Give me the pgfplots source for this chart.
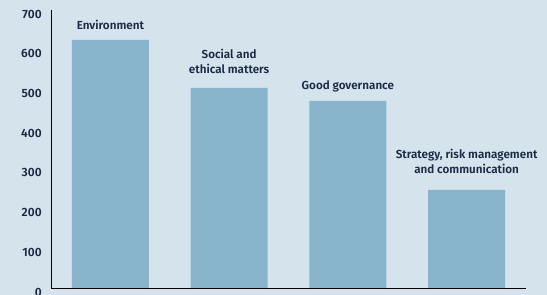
\documentclass[border=0pt]{standalone}
\usepackage{pgfplots}
\pgfplotsset{compat=1.18}
\usepackage{fontspec}
\setmainfont{Fira Sans}[BoldFont={Fira Sans SemiBold}]
\definecolor{bgc}{HTML}{D4E3EC}
\definecolor{barc}{HTML}{88B5CC}
\definecolor{txt}{HTML}{1C2A44}
\expandafter\def\csname lbl@env\endcsname{Environment}
\expandafter\def\csname lbl@soc\endcsname{Social and\\ethical matters}
\expandafter\def\csname lbl@gov\endcsname{Good governance}
\expandafter\def\csname lbl@str\endcsname{Strategy, risk management\\and communication}
\expandafter\def\csname sh@env\endcsname{10.7bp}
\expandafter\def\csname sh@soc\endcsname{14bp}
\expandafter\def\csname sh@gov\endcsname{11.7bp}
\expandafter\def\csname sh@str\endcsname{16bp}
\begin{document}
\begin{tikzpicture}
\path[use as bounding box, fill=bgc] (-51bp,-7bp) rectangle (496bp,288bp);
\begin{axis}[
  at={(0,0)}, anchor=south west,
  scale only axis, width=475bp, height=278bp,
  xmin=-0.5, xmax=3.5, ymin=0, ymax=700,
  axis x line=bottom, axis y line=left,
  axis line style={-, line width=0.8bp, draw=black},
  xtick=\empty,
  ytick={0,100,...,700},
  major tick style={draw=none},
  /pgf/number format/assume math mode=true,
  yticklabel style={anchor=east, inner sep=0pt, xshift=-7bp, yshift=-4bp,
    font=\fontsize{12}{14}\selectfont\bfseries, text=txt},
  ybar, bar width=77bp,
  point meta=explicit symbolic,
  nodes near coords={\csname lbl@\pgfplotspointmeta\endcsname},
  every node near coord/.style={anchor=base, align=center, inner sep=0pt,
    font=\fontsize{11.7}{15}\selectfont\bfseries, text=txt,
    yshift=\csname sh@\pgfplotspointmeta\endcsname},
]
\addplot[fill=barc, draw=none] coordinates {
  (0,625) [env]
  (1,504) [soc]
  (2,471) [gov]
  (3,247) [str]
};
\end{axis}
\end{tikzpicture}
\end{document}
